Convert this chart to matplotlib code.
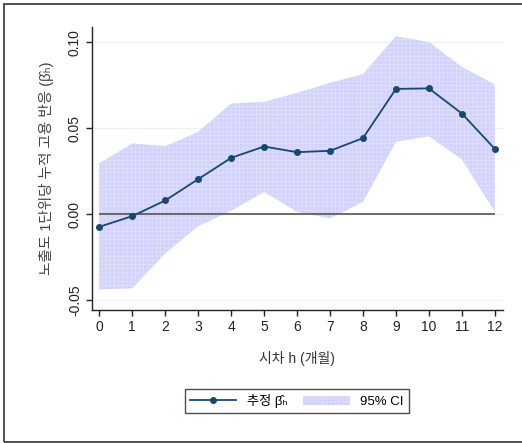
import matplotlib
matplotlib.use("Agg")
import matplotlib.pyplot as plt
from matplotlib.patches import Rectangle, Patch
from matplotlib.lines import Line2D

plt.rcParams['font.family'] = ['Liberation Sans', 'Noto Sans CJK KR', 'DejaVu Sans']
plt.rcParams['hatch.linewidth'] = 0.4

# 시차 (개월)
horizon = list(range(13))
# 추정 계수
beta = [-0.0072, -0.0010, 0.0081, 0.0205, 0.0329, 0.0395, 0.0362,
        0.0370, 0.0444, 0.0730, 0.0733, 0.0587, 0.0381]
# 95% 신뢰구간
ci_upper = [0.0297, 0.0413, 0.0397, 0.0480, 0.0645, 0.0655, 0.0707,
            0.0765, 0.0816, 0.1037, 0.1002, 0.0858, 0.0756]
ci_lower = [-0.0436, -0.0430, -0.0227, -0.0068, 0.0021, 0.0131, 0.0015,
            -0.0023, 0.0073, 0.0422, 0.0455, 0.0320, 0.0015]
yticks = [-0.05, 0.00, 0.05, 0.10]

navy = '#1a476f'
fill_col = '#d2d2fd'

fig = plt.figure(figsize=(5.22, 4.43), dpi=100)
ax = fig.add_axes([0.1757, 0.3002, 0.7874, 0.6388])

# 바깥 테두리
fig.patches.append(Rectangle((4 / 522, 1.5 / 443), 1.2, 1 - 5.5 / 443, transform=fig.transFigure,
                             fill=False, edgecolor='#333333', linewidth=1.2))

for y in yticks:
    ax.axhline(y, color='#eaf2f3', linewidth=1.0, zorder=0)

ax.fill_between(horizon, ci_lower, ci_upper, facecolor=fill_col, edgecolor='#e4e4ff',
                hatch='++++', linewidth=0, zorder=1)
ax.hlines(0, 0, 12, color='#555555', linewidth=1.2, zorder=2)
ax.plot(horizon, beta, color=navy, linewidth=1.3, marker='o', markersize=4, zorder=3)

ax.set_xlim(-0.23, 12.24)
ax.set_ylim(-0.0556, 0.109)
ax.set_xticks(horizon)
ax.set_yticks(yticks)
ax.set_yticklabels(['-0.05', '0.00', '0.05', '0.10'], rotation=90, va='center')

for side in ['top', 'right']:
    ax.spines[side].set_visible(False)
for side in ['left', 'bottom']:
    ax.spines[side].set_color('#222222')
    ax.spines[side].set_linewidth(1.0)
ax.tick_params(direction='out', length=4, width=1, labelsize=10, colors='#222222')
ax.tick_params(axis='y', pad=3)

ax.set_xlabel('시차 h (개월)', fontsize=10, labelpad=12, color='#333333')
ax.set_ylabel('노출도 1단위당 누적 고용 반응 (β\u0302\u2095)', fontsize=10.5, labelpad=10, color='#444444')

handles = [Line2D([0], [0], color=navy, linewidth=1.3, marker='o', markersize=4),
           Patch(facecolor=fill_col, edgecolor='#e4e4ff', hatch='++++', linewidth=0)]
leg = fig.legend(handles, ['추정 β\u0302\u2095', '95% CI'], loc='center', ncol=2,
                 bbox_to_anchor=(0.5686, 0.0948), fontsize=9.5, frameon=True,
                 fancybox=False, edgecolor='#222222', handlelength=3.5, columnspacing=1.2,
                 borderpad=0.4)
leg.get_frame().set_linewidth(1.0)

fig.savefig('out.png', dpi=100)
